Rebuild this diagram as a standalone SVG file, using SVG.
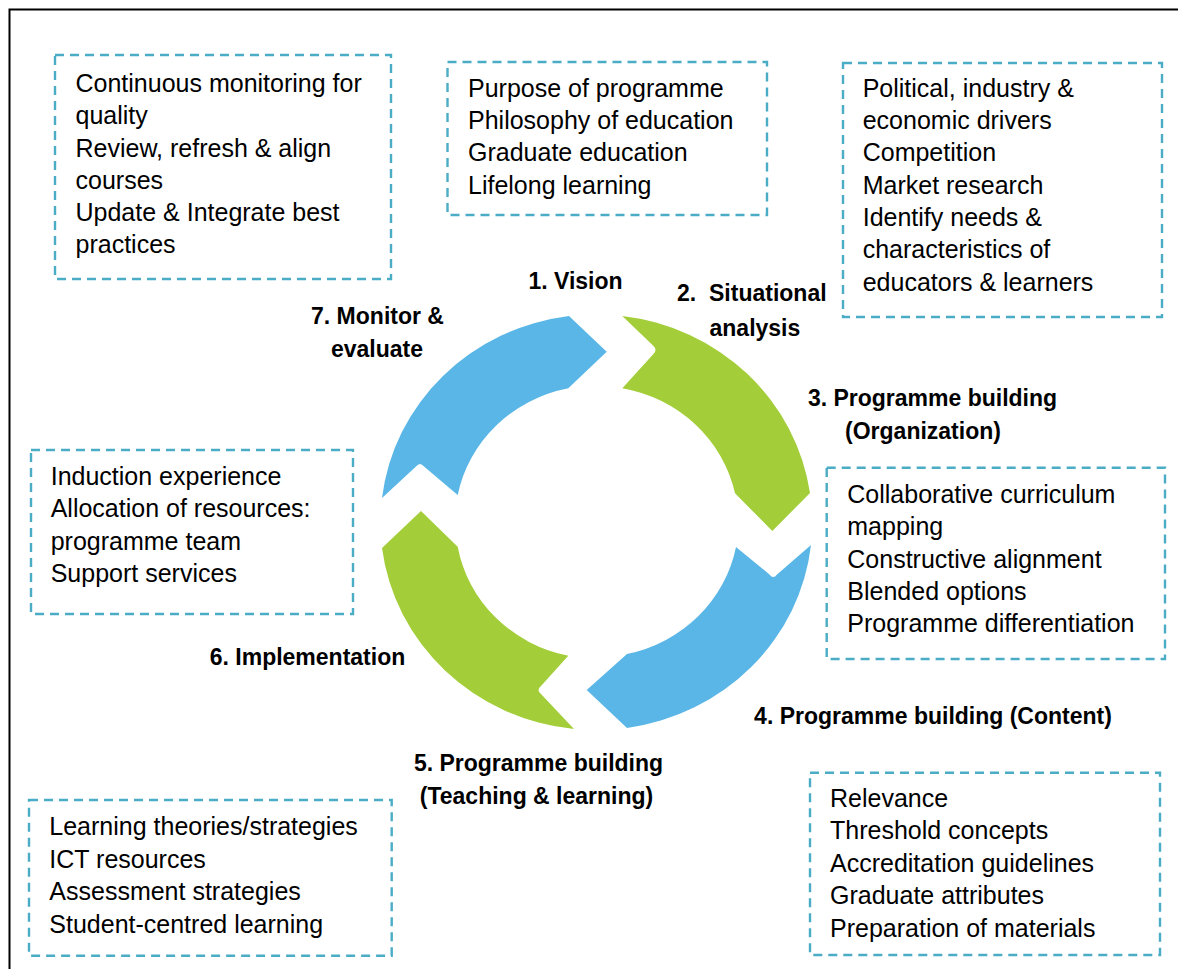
<svg xmlns="http://www.w3.org/2000/svg" width="1178" height="969" viewBox="0 0 1178 969">
<style>
.frame{fill:none;stroke:#000;stroke-width:2}
.box{fill:none;stroke:#4BACC6;stroke-width:2.4;stroke-dasharray:9 6}
.t{font-family:"Liberation Sans",Arial,sans-serif;font-size:25px;fill:#000}
.lb{font-family:"Liberation Sans",Arial,sans-serif;font-size:23px;font-weight:bold;fill:#000}
.blue{fill:#5AB6E6}
.green{fill:#A3CE39}
</style>
<rect class="frame" x="9.5" y="9.5" width="1300" height="1100"/>

<g id="connectors">
  <path id="arrow-7-1" class="blue" d="M382,498 A216,208 0 0 1 569,316 L606.7,351.7 L568.3,388.3 A141,136 0 0 0 457.7,495 L424,466.5 Q420,461.5 416,466.5 Z"/>
  <path id="arrow-1-3" class="green" d="M622.3,316 A216,208 0 0 1 810,493 L772.3,531 L735,493.3 A141,136 0 0 0 622.3,388.3 L653,354.5 Q658,350 653,345.5 Z"/>
  <path id="arrow-3-5" class="blue" d="M811,545 A216,208 0 0 1 627,728 L586.7,690 L627,654 A141,136 0 0 0 736,547 L769.5,574.5 Q773.3,579.5 777,574.5 Z"/>
  <path id="arrow-5-7" class="green" d="M574,729 A216,208 0 0 1 382,548 L421,511 L457.7,546.7 A141,136 0 0 0 568.3,655.7 L541,686 Q536,690 541,694 Z"/>
</g>

<g id="box-monitor">
  <rect class="box" x="55" y="55" width="336" height="224"/>
  <text class="t">
    <tspan x="75.5" y="92">Continuous monitoring for</tspan>
    <tspan x="75.5" y="124.3">quality</tspan>
    <tspan x="75.5" y="156.5">Review, refresh &amp; align</tspan>
    <tspan x="75.5" y="188.8">courses</tspan>
    <tspan x="75.5" y="221">Update &amp; Integrate best</tspan>
    <tspan x="75.5" y="253.3">practices</tspan>
  </text>
</g>

<g id="box-vision">
  <rect class="box" x="447.5" y="62" width="319.5" height="153"/>
  <text class="t">
    <tspan x="468" y="96.7">Purpose of programme</tspan>
    <tspan x="468" y="129">Philosophy of education</tspan>
    <tspan x="468" y="161.4">Graduate education</tspan>
    <tspan x="468" y="193.8">Lifelong learning</tspan>
  </text>
</g>

<g id="box-situational">
  <rect class="box" x="843" y="63" width="319" height="254"/>
  <text class="t">
    <tspan x="862.7" y="96.7">Political, industry &amp;</tspan>
    <tspan x="862.7" y="129">economic drivers</tspan>
    <tspan x="862.7" y="161.3">Competition</tspan>
    <tspan x="862.7" y="193.6">Market research</tspan>
    <tspan x="862.7" y="225.9">Identify needs &amp;</tspan>
    <tspan x="862.7" y="258.2">characteristics of</tspan>
    <tspan x="862.7" y="290.5">educators &amp; learners</tspan>
  </text>
</g>

<g id="box-implementation">
  <rect class="box" x="31" y="450" width="322" height="164"/>
  <text class="t">
    <tspan x="50.7" y="485">Induction experience</tspan>
    <tspan x="50.7" y="517.3">Allocation of resources:</tspan>
    <tspan x="50.7" y="549.5">programme team</tspan>
    <tspan x="50.7" y="581.8">Support services</tspan>
  </text>
</g>

<g id="box-organization">
  <rect class="box" x="826.7" y="467.7" width="338.3" height="191.3"/>
  <text class="t">
    <tspan x="847.3" y="502.7">Collaborative curriculum</tspan>
    <tspan x="847.3" y="535.1">mapping</tspan>
    <tspan x="847.3" y="567.5">Constructive alignment</tspan>
    <tspan x="847.3" y="599.9">Blended options</tspan>
    <tspan x="847.3" y="632.3">Programme differentiation</tspan>
  </text>
</g>

<g id="box-teaching">
  <rect class="box" x="29" y="800" width="362.7" height="155.7"/>
  <text class="t">
    <tspan x="49.3" y="835">Learning theories/strategies</tspan>
    <tspan x="49.3" y="867.5">ICT resources</tspan>
    <tspan x="49.3" y="900">Assessment strategies</tspan>
    <tspan x="49.3" y="932.5">Student-centred learning</tspan>
  </text>
</g>

<g id="box-content">
  <rect class="box" x="810" y="772.7" width="350" height="182.3"/>
  <text class="t">
    <tspan x="830" y="806.7">Relevance</tspan>
    <tspan x="830" y="839.2">Threshold concepts</tspan>
    <tspan x="830" y="871.7">Accreditation guidelines</tspan>
    <tspan x="830" y="904.2">Graduate attributes</tspan>
    <tspan x="830" y="936.7">Preparation of materials</tspan>
  </text>
</g>

<g id="label-1"><text class="lb" x="575.5" y="289" text-anchor="middle">1. Vision</text></g>
<g id="label-2">
  <text class="lb" x="677" y="301">2.</text>
  <text class="lb" x="709" y="301">Situational</text>
  <text class="lb" x="709.5" y="335.5">analysis</text>
</g>
<g id="label-3">
  <text class="lb" x="932.5" y="405.5" text-anchor="middle">3. Programme building</text>
  <text class="lb" x="923" y="438.5" text-anchor="middle">(Organization)</text>
</g>
<g id="label-4"><text class="lb" x="933" y="724" text-anchor="middle">4. Programme building (Content)</text></g>
<g id="label-5">
  <text class="lb" x="538.5" y="771" text-anchor="middle">5. Programme building</text>
  <text class="lb" x="536.5" y="804" text-anchor="middle">(Teaching &amp; learning)</text>
</g>
<g id="label-6"><text class="lb" x="307.5" y="665" text-anchor="middle">6. Implementation</text></g>
<g id="label-7">
  <text class="lb" x="377.5" y="324" text-anchor="middle">7. Monitor &amp;</text>
  <text class="lb" x="377" y="357" text-anchor="middle">evaluate</text>
</g>
</svg>
